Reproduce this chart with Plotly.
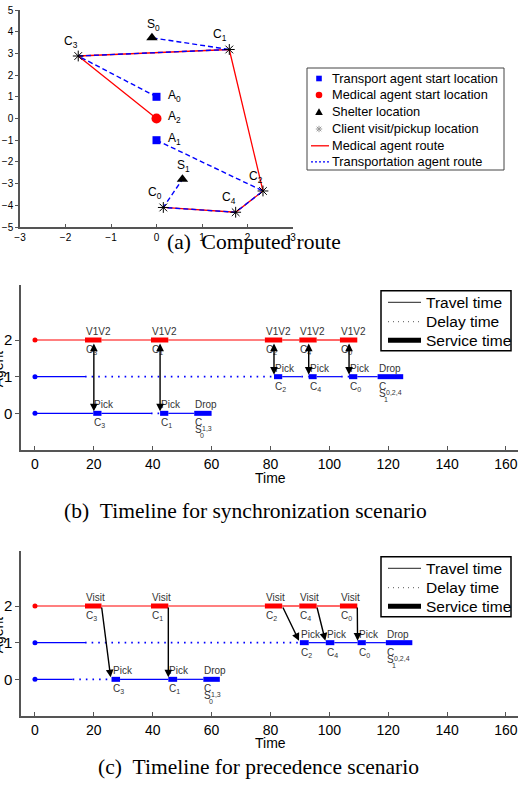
import plotly.graph_objects as go

# ---------------- (a) route data ----------------
client_names = ["C0", "C1", "C2", "C3", "C4"]
client_x = [0.15, 1.60, 2.34, -1.72, 1.74]
client_y = [-4.10, 3.18, -3.34, 2.88, -4.32]
shelter_names = ["S0", "S1"]
shelter_x = [-0.10, 0.57]
shelter_y = [3.72, -2.80]
transport_names = ["A0", "A1"]
transport_x = [0.0, 0.0]
transport_y = [1.0, -1.0]
medical_names = ["A2"]
medical_x = [0.0]
medical_y = [0.0]
medical_route = ["A2", "C3", "C1", "C2", "C4", "C0"]
transport_routes = [["A0", "C3", "C1", "S0"], ["A1", "C2", "C4", "C0", "S1"]]
legend_a_labels = ["Transport agent start location", "Medical agent start location",
                   "Shelter location", "Client visit/pickup location",
                   "Medical agent route", "Transportation agent route"]
legend_t_labels = ["Travel time", "Delay time", "Service time"]

# ---------------- timeline data ----------------
# travel / delay: (agent, start, end)
# service: (agent, start, end, label above, label below)
sync_travel = [
    (2, 0, 17.0), (2, 22.6, 39.4), (2, 45.3, 78.1), (2, 84.0, 89.8), (2, 95.7, 103.6),
    (1, 0, 17.0), (1, 84.0, 90.5), (1, 95.7, 104.0), (1, 109.5, 116.4),
    (0, 0, 19.8), (0, 22.6, 39.4), (0, 45.3, 54.1),
]
sync_delay = [(1, 17.0, 81.2), (1, 90.5, 93.0), (1, 104.0, 106.7), (0, 39.4, 42.5)]
sync_service = [
    (2, 17.0, 22.6, "V1V2", "C3"), (2, 39.4, 45.3, "V1V2", "C1"),
    (2, 78.1, 84.0, "V1V2", "C2"), (2, 89.8, 95.7, "V1V2", "C4"),
    (2, 103.6, 109.5, "V1V2", "C0"),
    (1, 81.2, 84.0, "Pick", "C2"), (1, 93.0, 95.7, "Pick", "C4"),
    (1, 106.7, 109.5, "Pick", "C0"), (1, 116.4, 125.1, "Drop", "C"),
    (0, 19.8, 22.6, "Pick", "C3"), (0, 42.5, 45.3, "Pick", "C1"),
    (0, 54.1, 60.0, "Drop", "C"),
]
sync_shelter = [(1, 116.4, "1", "0,2,4"), (0, 54.1, "0", "1,3")]
sync_links = [(20.0, 2, 20.0, 0), (42.5, 2, 42.5, 0), (81.2, 2, 81.2, 1),
              (93.0, 2, 93.0, 1), (106.7, 2, 106.7, 1)]

prec_travel = [
    (2, 0, 17.0), (2, 22.6, 39.4), (2, 45.3, 78.1), (2, 84.0, 89.8), (2, 95.7, 103.6),
    (1, 0, 17.0), (1, 93.0, 98.8), (1, 101.7, 109.6), (1, 112.4, 119.2),
    (0, 0, 12.8), (0, 28.9, 45.3), (0, 48.3, 57.2),
]
prec_delay = [(1, 17.0, 90.0), (0, 12.8, 26.0)]
prec_service = [
    (2, 17.0, 22.6, "Visit", "C3"), (2, 39.4, 45.3, "Visit", "C1"),
    (2, 78.1, 84.0, "Visit", "C2"), (2, 89.8, 95.7, "Visit", "C4"),
    (2, 103.6, 109.5, "Visit", "C0"),
    (1, 90.0, 93.0, "Pick", "C2"), (1, 98.8, 101.7, "Pick", "C4"),
    (1, 109.6, 112.4, "Pick", "C0"), (1, 119.2, 128.2, "Drop", "C"),
    (0, 26.0, 28.9, "Pick", "C3"), (0, 45.3, 48.3, "Pick", "C1"),
    (0, 57.2, 62.8, "Drop", "C"),
]
prec_shelter = [(1, 119.2, "1", "0,2,4"), (0, 57.2, "0", "1,3")]
prec_links = [(22.6, 2, 25.8, 0), (45.3, 2, 45.3, 0), (84.0, 2, 90.0, 1),
              (95.7, 2, 98.8, 1), (109.5, 2, 109.6, 1)]

agents = [0, 1, 2]
time_ticks = [0, 20, 40, 60, 80, 100, 120, 140, 160]

# ---------------- styling ----------------
W, H = 518, 794
SANS = "Liberation Sans, Arial, sans-serif"
SERIF = "Liberation Serif, Times New Roman, serif"
AXC = "#555555"
agent_color = {2: "red", 1: "blue", 0: "blue"}
NB = "\u00a0"


def sub(name):
    if len(name) > 1:
        return name[0] + "<sub>" + name[1:] + "</sub>"
    return name


def px(x):
    return x / W


def py(y):
    return 1 - y / H


fig = go.Figure()
ann = []
shapes = []

# ---------------- (a) route plot ----------------
coords = {}
for n, x, y in zip(client_names, client_x, client_y):
    coords[n] = (x, y)
for n, x, y in zip(shelter_names, shelter_x, shelter_y):
    coords[n] = (x, y)
for n, x, y in zip(transport_names, transport_x, transport_y):
    coords[n] = (x, y)
for n, x, y in zip(medical_names, medical_x, medical_y):
    coords[n] = (x, y)

fig.add_trace(go.Scatter(
    x=[coords[n][0] for n in medical_route], y=[coords[n][1] for n in medical_route],
    mode="lines", line=dict(color="red", width=1.3), showlegend=False,
    xaxis="x", yaxis="y"))
for route in transport_routes:
    fig.add_trace(go.Scatter(
        x=[coords[n][0] for n in route], y=[coords[n][1] for n in route],
        mode="lines", line=dict(color="blue", width=1.4, dash="5px,3px"),
        showlegend=False, xaxis="x", yaxis="y"))
fig.add_trace(go.Scatter(x=transport_x, y=transport_y, mode="markers",
                         marker=dict(symbol="square", size=8, color="blue"),
                         showlegend=False, xaxis="x", yaxis="y"))
fig.add_trace(go.Scatter(x=medical_x, y=medical_y, mode="markers",
                         marker=dict(symbol="circle", size=10, color="red"),
                         showlegend=False, xaxis="x", yaxis="y"))
fig.add_trace(go.Scatter(x=shelter_x, y=shelter_y, mode="markers",
                         marker=dict(symbol="triangle-up", size=10, color="black"),
                         showlegend=False, xaxis="x", yaxis="y"))
fig.add_trace(go.Scatter(x=client_x, y=client_y, mode="markers",
                         marker=dict(symbol="asterisk-open", size=9, color="black",
                                     line=dict(color="black", width=1)),
                         showlegend=False, xaxis="x", yaxis="y"))

label_offset = {
    "C0": (-8, 14, "center"), "C1": (-9, 14, "center"), "C2": (-7, 14, "center"),
    "C3": (-7, 14, "center"), "C4": (-7, 14, "center"),
    "S0": (2, 13, "center"), "S1": (1, 13, "center"),
    "A0": (9, 1, "left"), "A1": (9, 1, "left"), "A2": (9, 1, "left"),
}
for n, (x, y) in coords.items():
    dx, dy, anc = label_offset[n]
    ann.append(dict(x=x, y=y, xref="x", yref="y", text=sub(n), showarrow=False,
                    xshift=dx, yshift=dy, xanchor=anc, yanchor="middle",
                    font=dict(family=SANS, size=12, color="black")))


def pline(x0, x1, y, **line):
    shapes.append(dict(type="line", xref="paper", yref="paper", x0=px(x0), x1=px(x1),
                       y0=py(y), y1=py(y), line=line, layer="above"))


def pbox(x0, x1, y0, y1, color, width):
    shapes.append(dict(type="rect", xref="paper", yref="paper", x0=px(x0), x1=px(x1),
                       y0=py(y1), y1=py(y0), line=dict(color=color, width=width),
                       fillcolor="white", layer="above"))


def ptext(x, y, txt, size):
    ann.append(dict(x=px(x), y=py(y), xref="paper", yref="paper", text=txt,
                    showarrow=False, xanchor="left", yanchor="middle",
                    font=dict(family=SANS, size=size, color="black")))


# legend (a), drawn as a framed key
pbox(307, 504, 68, 170, "#444444", 1)
r = [78.5, 95.0, 112.0, 129.0, 145.8, 161.8]
sx = 319
shapes.append(dict(type="rect", xref="paper", yref="paper", x0=px(sx - 2.8), x1=px(sx + 2.8),
                   y0=py(r[0] + 2.8), y1=py(r[0] - 2.8), fillcolor="blue",
                   line=dict(width=0), layer="above"))
shapes.append(dict(type="circle", xref="paper", yref="paper", x0=px(sx - 3.3), x1=px(sx + 3.3),
                   y0=py(r[1] + 3.3), y1=py(r[1] - 3.3), fillcolor="red",
                   line=dict(width=0), layer="above"))
shapes.append(dict(type="path", xref="paper", yref="paper",
                   path="M {} {} L {} {} L {} {} Z".format(px(sx - 3.8), py(r[2] + 3), px(sx + 3.8), py(r[2] + 3),
                                                           px(sx), py(r[2] - 3.8)),
                   fillcolor="black", line=dict(width=0), layer="above"))
a = 3.2
d = 2.3
shapes.append(dict(type="path", xref="paper", yref="paper",
                   path="M {} {} L {} {} M {} {} L {} {} M {} {} L {} {} M {} {} L {} {}".format(
                       px(sx - a), py(r[3]), px(sx + a), py(r[3]),
                       px(sx), py(r[3] - a), px(sx), py(r[3] + a),
                       px(sx - d), py(r[3] - d), px(sx + d), py(r[3] + d),
                       px(sx - d), py(r[3] + d), px(sx + d), py(r[3] - d)),
                   line=dict(color="#999999", width=1), layer="above"))
pline(311, 329, r[4], color="red", width=1.3)
pline(311, 329, r[5], color="blue", width=1.3, dash="2px,2px")
for lab, yy in zip(legend_a_labels, r):
    ptext(330, yy, lab, 12.8)


# ---------------- timelines ----------------
def timeline(travel, delay, service, shelter, links, xa, ya, double):
    for ag_ in agents:
        tx, ty = [], []
        for ag, s, e in travel:
            if ag == ag_:
                tx += [s, e, None]
                ty += [ag, ag, None]
        fig.add_trace(go.Scatter(x=tx, y=ty, mode="lines", showlegend=False,
                                 line=dict(color=agent_color[ag_], width=1.2),
                                 xaxis=xa, yaxis=ya))
        dx_, dy_ = [], []
        for ag, s, e in delay:
            if ag == ag_:
                dx_ += [s, e, None]
                dy_ += [ag, ag, None]
        if dx_:
            fig.add_trace(go.Scatter(x=dx_, y=dy_, mode="lines", showlegend=False,
                                     line=dict(color=agent_color[ag_], width=1.6, dash="1.6px,5px"),
                                     xaxis=xa, yaxis=ya))
        sx_, sy_ = [], []
        for ag, s, e, top, bot in service:
            if ag == ag_:
                sx_ += [s, e, None]
                sy_ += [ag, ag, None]
        fig.add_trace(go.Scatter(x=sx_, y=sy_, mode="lines", showlegend=False,
                                 line=dict(color=agent_color[ag_], width=5),
                                 xaxis=xa, yaxis=ya))
    fig.add_trace(go.Scatter(x=[0] * len(agents), y=agents, mode="markers", showlegend=False,
                             marker=dict(size=5, color=[agent_color[g] for g in agents]),
                             xaxis=xa, yaxis=ya))
    for ag, s, e, top, bot in service:
        ann.append(dict(x=s, y=ag, xref=xa, yref=ya, text=top, showarrow=False,
                        xanchor="left", yanchor="bottom", yshift=1, xshift=-1,
                        font=dict(family=SANS, size=10, color="#333333")))
        ann.append(dict(x=s, y=ag, xref=xa, yref=ya, text=sub(bot), showarrow=False,
                        xanchor="left", yanchor="top", yshift=-2, xshift=-1,
                        font=dict(family=SANS, size=10, color="#333333")))
    for ag, s, lo, hi in shelter:
        ann.append(dict(x=s, y=ag, xref=xa, yref=ya, text="S", showarrow=False,
                        xanchor="left", yanchor="top", yshift=-9, xshift=-1,
                        font=dict(family=SANS, size=10, color="#333333")))
        ann.append(dict(x=s, y=ag, xref=xa, yref=ya, text=hi, showarrow=False,
                        xanchor="left", yanchor="top", yshift=-10, xshift=6,
                        font=dict(family=SANS, size=7, color="#333333")))
        ann.append(dict(x=s, y=ag, xref=xa, yref=ya, text=lo, showarrow=False,
                        xanchor="left", yanchor="top", yshift=-17, xshift=4,
                        font=dict(family=SANS, size=7, color="#333333")))
    for x0, a0, x1, a1 in links:
        dd = dict(x=x1, y=a1, ax=x0, ay=a0, xref=xa, yref=ya, axref=xa, ayref=ya,
                  text="", showarrow=True, arrowhead=2, arrowsize=1.1, arrowwidth=1.4,
                  arrowcolor="black", standoff=2)
        if double:
            dd.update(arrowside="end+start", startarrowhead=2, startarrowsize=1.1,
                      startstandoff=2)
        ann.append(dd)


def time_legend(top):
    pbox(381, 511, top, top + 60, "black", 1.5)
    rows = [top + 11.6, top + 31.0, top + 49.6]
    pline(388, 421, rows[0], color="#222222", width=1)
    pline(388, 421, rows[1], color="#555555", width=1, dash="1px,4px")
    pline(388, 421, rows[2], color="black", width=5)
    for lab, yy in zip(legend_t_labels, rows):
        ptext(424, yy, lab, 15.5)


timeline(sync_travel, sync_delay, sync_service, sync_shelter, sync_links, "x2", "y2", True)
timeline(prec_travel, prec_delay, prec_service, prec_shelter, prec_links, "x3", "y3", False)
time_legend(290.7)
time_legend(556.7)

for ya in ("y2", "y3"):
    ann.append(dict(x=px(8), y=1.2, xref="paper", yref=ya, text="Agent", showarrow=False,
                    textangle=-90, xanchor="right", yanchor="middle",
                    font=dict(family=SANS, size=14, color="black")))
for yp in (478, 743):
    ann.append(dict(x=px(270), y=py(yp), xref="paper", yref="paper", text="Time",
                    showarrow=False, xanchor="center", yanchor="middle",
                    font=dict(family=SANS, size=14, color="black")))
captions = [("(a)" + NB + NB + "Computed route", 254, 242),
            ("(b)" + NB + NB + "Timeline for synchronization scenario", 245, 511),
            ("(c)" + NB + NB + "Timeline for precedence scenario", 258, 767)]
for txt, cx, cy in captions:
    ann.append(dict(x=px(cx), y=py(cy), xref="paper", yref="paper", text=txt,
                    showarrow=False, xanchor="center", yanchor="middle",
                    font=dict(family=SERIF, size=21.5, color="black")))

axis_common = dict(showline=True, linecolor=AXC, linewidth=1.5, showgrid=False,
                   zeroline=False, tickcolor=AXC, mirror=False, automargin=False)
x_a = dict(axis_common, domain=[px(20), px(293)], range=[-3, 3], dtick=1, ticks="inside",
           ticklen=3, anchor="y", tickfont=dict(family=SANS, size=10, color="black"))
y_a = dict(axis_common, domain=[py(227), py(10)], range=[-5, 5], dtick=1, ticks="outside",
           ticklen=3, anchor="x", tickfont=dict(family=SANS, size=10, color="black"))
xr = [-4.75, 164.1]
x_b = dict(axis_common, domain=[px(21), 1], range=xr, tickvals=time_ticks, ticks="inside",
           ticklen=4, anchor="y2", tickfont=dict(family=SANS, size=14, color="black"))
y_b = dict(axis_common, domain=[py(450), py(285)], range=[-1, 3.5], tickvals=agents,
           ticks="outside", ticklen=4, anchor="x2", tickfont=dict(family=SANS, size=15, color="black"))
x_c = dict(x_b, anchor="y3")
y_c = dict(y_b, domain=[py(716), py(551)], anchor="x3")

fig.update_layout(
    width=W, height=H, margin=dict(l=0, r=0, t=0, b=0, autoexpand=False),
    paper_bgcolor="white", plot_bgcolor="white",
    xaxis=x_a, yaxis=y_a, xaxis2=x_b, yaxis2=y_b, xaxis3=x_c, yaxis3=y_c,
    annotations=ann, shapes=shapes, showlegend=False,
)

fig.write_html("out.html", config={"displayModeBar": False},
               post_script="document.body.style.margin='0px';document.body.style.padding='0px';")
